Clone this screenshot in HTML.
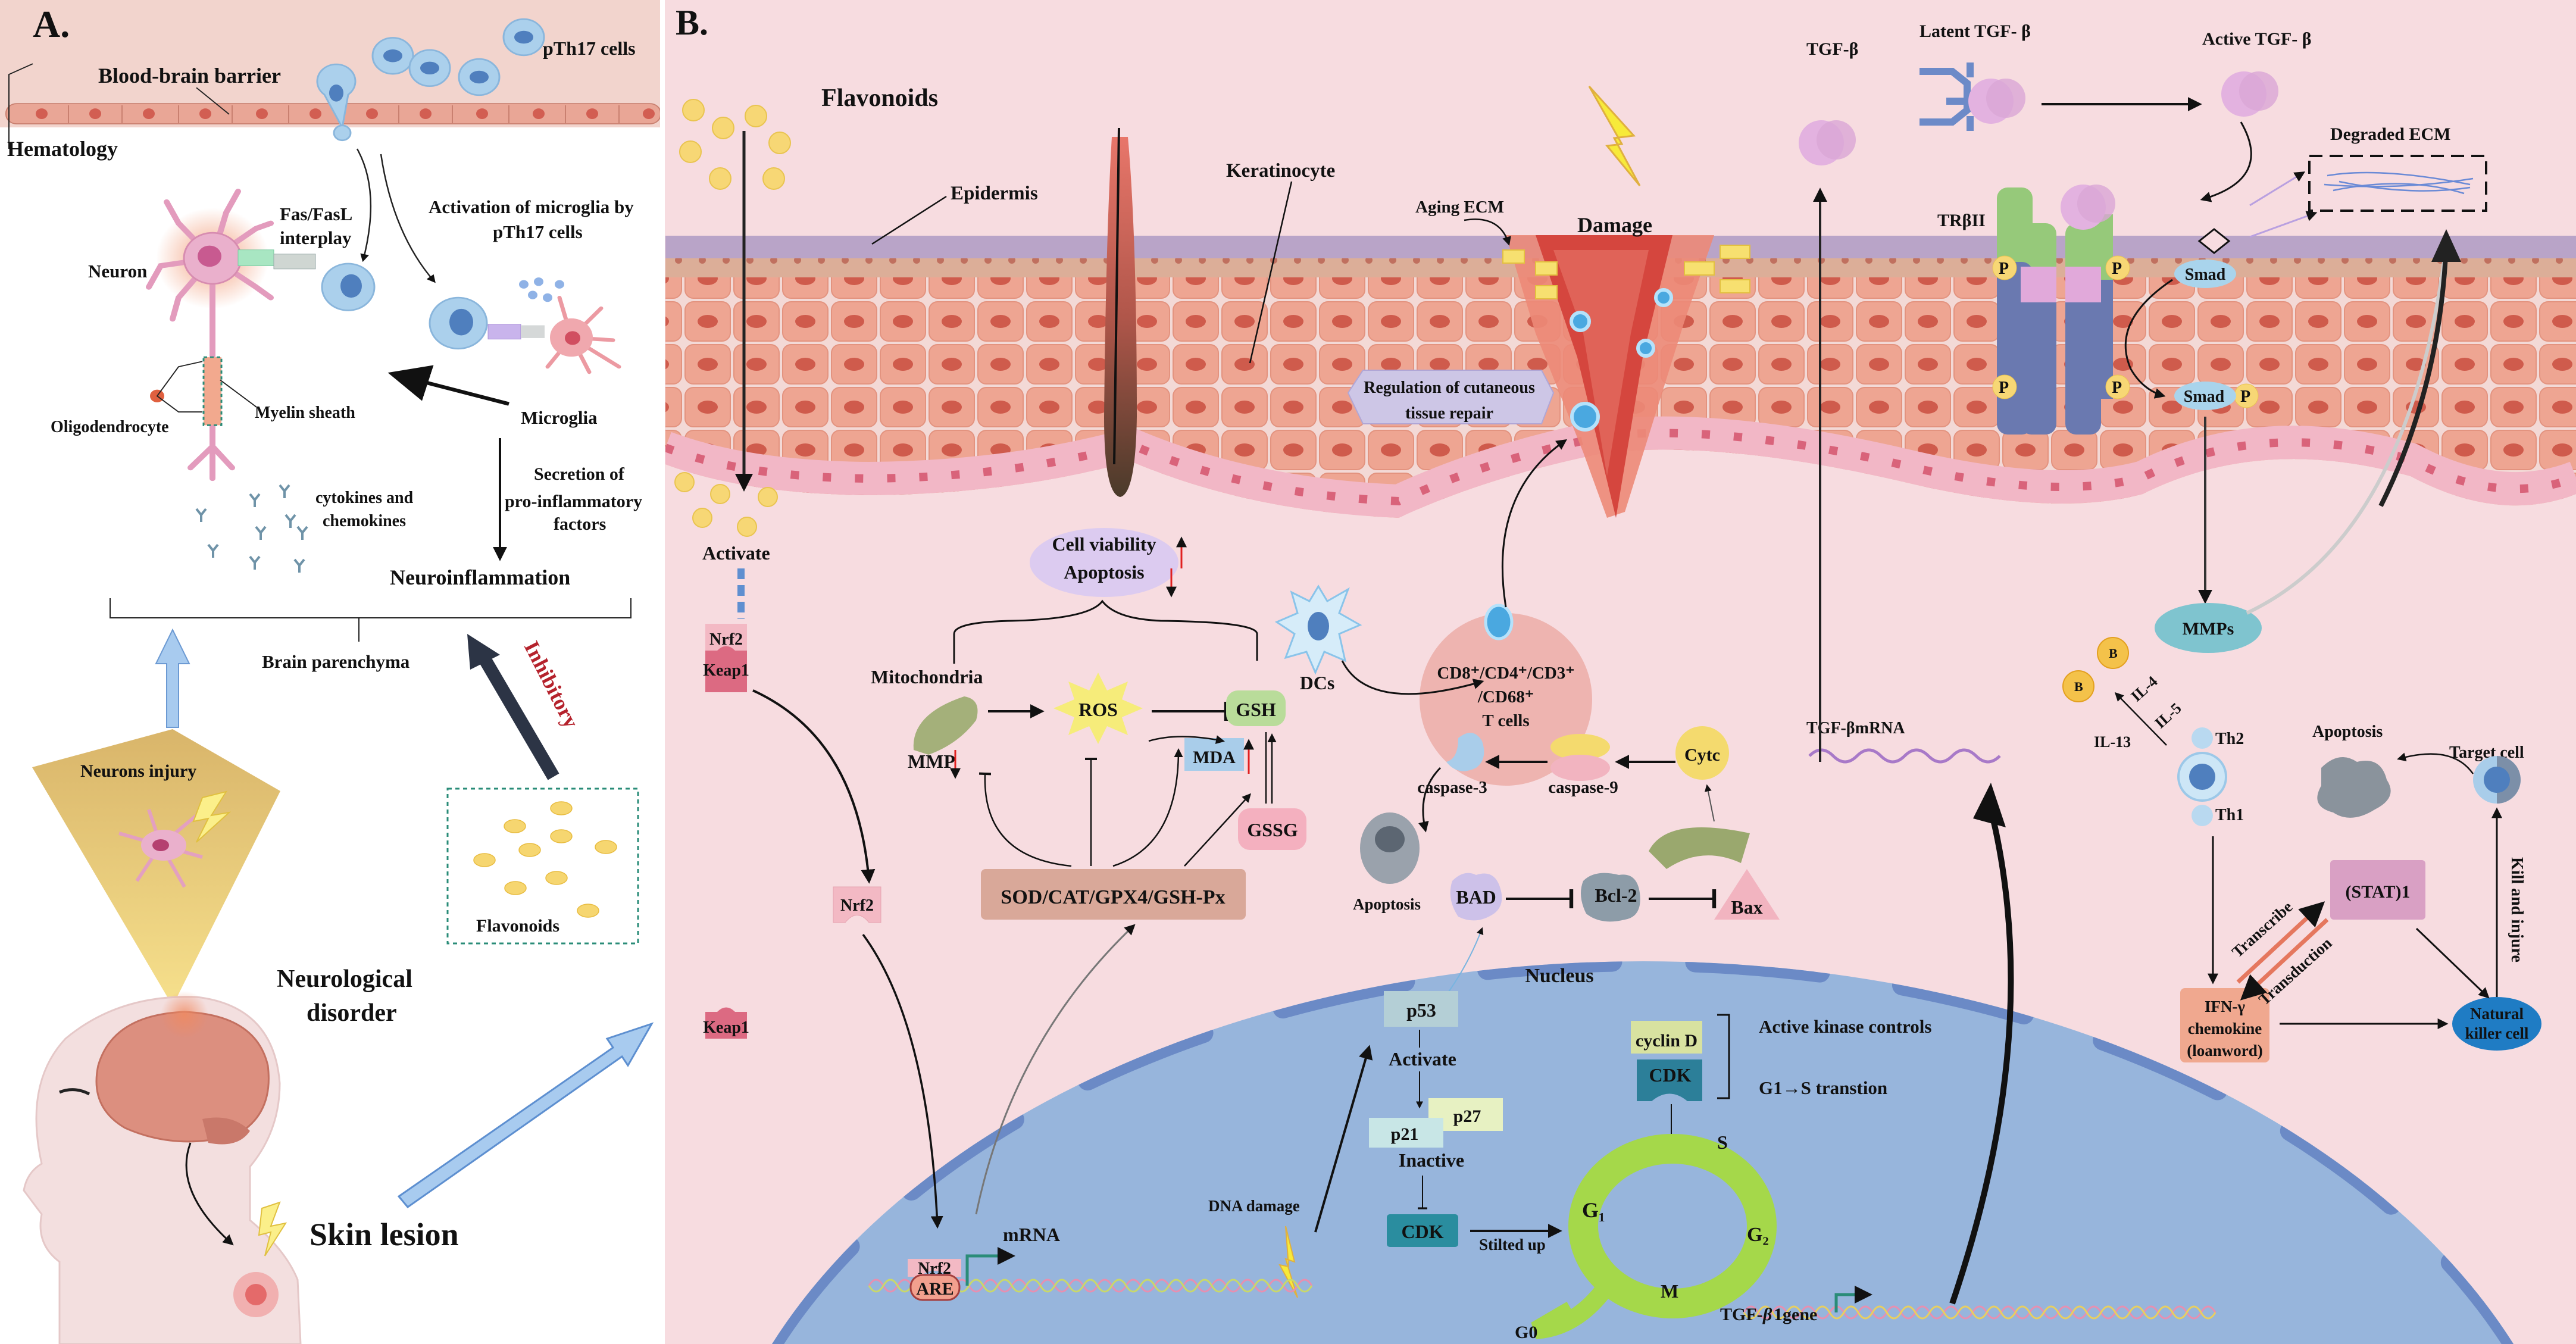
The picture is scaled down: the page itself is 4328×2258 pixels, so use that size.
<!DOCTYPE html>
<html><head><meta charset="utf-8"><style>
html,body{margin:0;padding:0;background:#fff;width:4328px;height:2258px;overflow:hidden}
svg{display:block}
text{font-family:"Liberation Serif",serif;font-weight:bold;fill:#111}
</style></head><body>
<svg width="4328" height="2258" viewBox="0 0 4328 2258" xmlns="http://www.w3.org/2000/svg">
<defs>
<pattern id="cells" width="82" height="72" patternUnits="userSpaceOnUse">
<rect width="82" height="72" fill="#f3d9d6"/>
<rect x="3" y="3" width="76" height="66" rx="14" fill="#eea592" stroke="#e3937f" stroke-width="2"/>
<ellipse cx="41" cy="36" rx="17" ry="11" fill="#cf5b4c"/>
</pattern>
<pattern id="gran" width="40" height="38" patternUnits="userSpaceOnUse">
<rect width="40" height="38" fill="#dcae98"/>
<circle cx="20" cy="19" r="6" fill="#c0705f"/>
</pattern>
<linearGradient id="tri" x1="0" y1="0" x2="0" y2="1"><stop offset="0" stop-color="#d9b56a"/><stop offset="1" stop-color="#f6e08c"/></linearGradient>
<linearGradient id="hair" x1="0" y1="0" x2="0" y2="1"><stop offset="0" stop-color="#e8766a"/><stop offset="0.5" stop-color="#b0564a"/><stop offset="1" stop-color="#4a3a2a"/></linearGradient>
<radialGradient id="glow"><stop offset="0" stop-color="#f08a60" stop-opacity="0.8"/><stop offset="1" stop-color="#f08a60" stop-opacity="0"/></radialGradient>
<marker id="ah" viewBox="0 0 10 10" refX="8" refY="5" markerWidth="6" markerHeight="6" orient="auto"><path d="M0,0 L10,5 L0,10 Z" fill="#111"/></marker>
<marker id="ahs" viewBox="0 0 10 10" refX="8" refY="5" markerWidth="10" markerHeight="10" orient="auto"><path d="M0,0 L10,5 L0,10 Z" fill="#111"/></marker>
<marker id="tb" viewBox="0 0 10 10" refX="5" refY="5" markerWidth="8" markerHeight="8" orient="auto"><path d="M5,0 L5,10" stroke="#111" stroke-width="2"/></marker>
<clipPath id="skinclip"><path d="M1118,396 L4328,396 L4328,830 Q4200,880 4050,800 Q3800,730 3600,830 Q3450,870 3200,810 Q2900,740 2700,760 Q2500,800 2350,870 Q2100,860 1900,775 Q1700,830 1460,832 Q1250,830 1118,780 Z"/></clipPath>
<clipPath id="nuc"><path d="M1297,2258 A1585,1045 0 0 1 4223,2258 Z"/></clipPath>
</defs>

<!-- PANEL A -->
<rect x="0" y="0" width="1112" height="2258" fill="#fff"/>
<rect x="0" y="0" width="1112" height="214" fill="#f2d4cd"/>
<g transform="matrix(1,0,0,0.893,0,0)">
<rect x="10" y="195" width="1100" height="38" rx="18" fill="#e9a696" stroke="#c98070" stroke-width="2"/>
<g fill="#d25e52">
<circle cx="70" cy="214" r="10"/><circle cx="160" cy="214" r="10"/><circle cx="250" cy="214" r="10"/><circle cx="345" cy="214" r="10"/><circle cx="440" cy="214" r="10"/><circle cx="530" cy="214" r="10"/><circle cx="625" cy="214" r="10"/><circle cx="715" cy="214" r="10"/><circle cx="810" cy="214" r="10"/><circle cx="905" cy="214" r="10"/><circle cx="995" cy="214" r="10"/><circle cx="1090" cy="214" r="10"/>
</g>
<g stroke="#c98070" stroke-width="2"><line x1="115" y1="198" x2="115" y2="232"/><line x1="205" y1="198" x2="205" y2="232"/><line x1="300" y1="198" x2="300" y2="232"/><line x1="390" y1="198" x2="390" y2="232"/><line x1="485" y1="198" x2="485" y2="232"/><line x1="575" y1="198" x2="575" y2="232"/><line x1="670" y1="198" x2="670" y2="232"/><line x1="760" y1="198" x2="760" y2="232"/><line x1="855" y1="198" x2="855" y2="232"/><line x1="950" y1="198" x2="950" y2="232"/><line x1="1040" y1="198" x2="1040" y2="232"/></g>
<polyline points="15,280 15,140 55,120" fill="none" stroke="#222" stroke-width="2"/>
<line x1="330" y1="165" x2="385" y2="215" stroke="#222" stroke-width="2"/>
<g fill="#abd0ec" stroke="#8ab6dc" stroke-width="3">
<circle cx="660" cy="105" r="34"/><circle cx="722" cy="128" r="34"/><circle cx="805" cy="145" r="34"/><circle cx="880" cy="70" r="34"/>
<path d="M545,178 a32,32 0 1 1 40,0 L575,240 Z"/><circle cx="575" cy="250" r="14"/>
</g>
<g fill="#4f7fbe"><ellipse cx="660" cy="105" rx="16" ry="12"/><ellipse cx="722" cy="128" rx="16" ry="12"/><ellipse cx="805" cy="145" rx="16" ry="12"/><ellipse cx="880" cy="70" rx="16" ry="12"/><ellipse cx="565" cy="175" rx="12" ry="16"/></g>
<circle cx="357" cy="486" r="95" fill="url(#glow)"/>
<g stroke="#e39bbd" stroke-width="10" fill="none" stroke-linecap="round">
<path d="M357,486 L357,680"/><path d="M357,486 L300,420 L280,380"/><path d="M357,486 L380,400 L400,360"/><path d="M357,486 L430,430 L455,420"/><path d="M357,486 L270,500 L250,540"/><path d="M357,486 L300,560 L290,600"/><path d="M357,486 L430,540 L455,560"/>
<path d="M357,800 L357,840 L320,880 M357,840 L390,880 M357,840 L357,900"/>
</g>
<circle cx="357" cy="486" r="48" fill="#eab0cc" stroke="#d78cb0" stroke-width="3"/>
<circle cx="352" cy="482" r="20" fill="#c85a90"/>
<rect x="342" y="672" width="30" height="128" fill="#f2a98e" stroke="#2a8c78" stroke-width="3" stroke-dasharray="6,5"/>
<circle cx="264" cy="745" r="12" fill="#e0603f"/>
<polyline points="340,680 300,690 264,745 300,775 340,775" fill="none" stroke="#222" stroke-width="2"/>
<line x1="370" y1="715" x2="430" y2="765" stroke="#222" stroke-width="2"/>
<rect x="400" y="470" width="60" height="30" fill="#a8e6c2" stroke="#7ac9a0"/>
<rect x="460" y="478" width="70" height="28" fill="#cfd6d2" stroke="#9aa"/>
<circle cx="585" cy="540" r="44" fill="#abd0ec" stroke="#8ab6dc" stroke-width="3"/><ellipse cx="590" cy="538" rx="18" ry="22" fill="#4f7fbe"/>
<circle cx="770" cy="608" r="48" fill="#abd0ec" stroke="#8ab6dc" stroke-width="3"/><ellipse cx="775" cy="606" rx="20" ry="25" fill="#4f7fbe"/>
<rect x="820" y="610" width="55" height="28" fill="#c9b4ec" stroke="#a68ed6"/><rect x="875" y="612" width="40" height="24" fill="#d5d8d8"/>
<g stroke="#ec9aa2" stroke-width="7" fill="none" stroke-linecap="round"><path d="M960,635 L1010,580 M960,635 L1030,640 M960,635 L990,700 M960,635 L920,690 M960,635 L940,560 M960,635 L1040,690"/></g>
<circle cx="960" cy="635" r="36" fill="#f0a8ae"/><circle cx="962" cy="636" r="13" fill="#d14e60"/>
<g fill="#8fb2e6"><circle cx="880" cy="535" r="8"/><circle cx="905" cy="530" r="8"/><circle cx="895" cy="555" r="8"/><circle cx="920" cy="560" r="8"/><circle cx="940" cy="535" r="8"/></g>
<path d="M600,280 Q640,360 610,490" fill="none" stroke="#222" stroke-width="2.5" marker-end="url(#ah)"/>
<path d="M640,290 Q660,440 730,530" fill="none" stroke="#222" stroke-width="2.5" marker-end="url(#ah)"/>
<line x1="855" y1="760" x2="665" y2="705" stroke="#111" stroke-width="7" marker-end="url(#ahs)"/>
</g>
<text x="55" y="62" font-size="64">A.</text>
<text x="165" y="139" font-size="36">Blood-brain barrier</text>
<text x="12" y="262" font-size="36">Hematology</text>
<text x="912" y="92" font-size="32">pTh17 cells</text>
<text x="470" y="370" font-size="31">Fas/FasL</text><text x="470" y="410" font-size="31">interplay</text>
<text x="720" y="358" font-size="31">Activation of microglia by</text><text x="828" y="400" font-size="31">pTh17 cells</text>
<text x="148" y="466" font-size="31">Neuron</text>
<text x="85" y="726" font-size="28">Oligodendrocyte</text>
<text x="428" y="702" font-size="28">Myelin sheath</text>
<text x="875" y="712" font-size="31">Microglia</text>
<line x1="840" y1="736" x2="840" y2="938" stroke="#111" stroke-width="4" marker-end="url(#ah)"/>
<g stroke="#6f93a8" stroke-width="4" fill="none"><path d="M330,855 l8,10 l8,-10 M338,865 v12"/><path d="M420,830 l8,10 l8,-10 M428,840 v12"/><path d="M470,815 l8,10 l8,-10 M478,825 v12"/><path d="M350,915 l8,10 l8,-10 M358,925 v12"/><path d="M430,885 l8,10 l8,-10 M438,895 v12"/><path d="M480,865 l8,10 l8,-10 M488,875 v12"/><path d="M500,885 l8,10 l8,-10 M508,895 v12"/><path d="M420,935 l8,10 l8,-10 M428,945 v12"/><path d="M495,940 l8,10 l8,-10 M503,950 v12"/></g>
<text x="530" y="845" font-size="28">cytokines and</text><text x="542" y="884" font-size="28">chemokines</text>
<text x="897" y="806" font-size="30">Secretion of</text><text x="848" y="852" font-size="30">pro-inflammatory</text><text x="930" y="890" font-size="30">factors</text>
<text x="655" y="982" font-size="36">Neuroinflammation</text>
<polyline points="185,1005 185,1038 1060,1038 1060,1005" fill="none" stroke="#222" stroke-width="2"/>
<line x1="603" y1="1038" x2="603" y2="1078" stroke="#222" stroke-width="2"/>
<text x="440" y="1122" font-size="31">Brain parenchyma</text>
<path d="M280,1222 L280,1115 L262,1115 L290,1058 L318,1115 L300,1115 L300,1222 Z" fill="#a8cbef" stroke="#6c9ad3" stroke-width="2"/>
<polygon points="54,1289 290,1225 471,1329 290,1690" fill="url(#tri)"/>
<text x="135" y="1305" font-size="30">Neurons injury</text>
<g stroke="#e3a0c0" stroke-width="6" fill="none"><path d="M270,1420 L200,1400 M270,1420 L250,1360 M270,1420 L330,1370 M270,1420 L340,1440 M270,1420 L230,1480 M270,1420 L310,1490"/></g>
<ellipse cx="275" cy="1420" rx="38" ry="26" fill="#eab0cc"/><ellipse cx="270" cy="1420" rx="14" ry="10" fill="#b54070"/>
<polygon points="340,1340 380,1330 355,1370 385,1365 330,1415 350,1375 325,1380" fill="#fbef8a" stroke="#e0c040" stroke-width="2"/>
<line x1="930" y1="1305" x2="810" y2="1100" stroke="#2c3445" stroke-width="22"/>
<polygon points="785,1065 840,1100 790,1125" fill="#2c3445"/>
<text transform="translate(880,1085) rotate(63)" font-size="36" style="fill:#b5222c">Inhibitory</text>
<rect x="752" y="1325" width="320" height="260" fill="none" stroke="#2a8c78" stroke-width="3" stroke-dasharray="7,6"/>
<g fill="#f6d670" stroke="#e8bc40" stroke-width="1.5"><ellipse cx="943" cy="1358" rx="18" ry="11"/><ellipse cx="865" cy="1388" rx="18" ry="11"/><ellipse cx="943" cy="1405" rx="18" ry="11"/><ellipse cx="890" cy="1428" rx="18" ry="11"/><ellipse cx="1018" cy="1423" rx="18" ry="11"/><ellipse cx="814" cy="1445" rx="18" ry="11"/><ellipse cx="935" cy="1475" rx="18" ry="11"/><ellipse cx="866" cy="1492" rx="18" ry="11"/><ellipse cx="988" cy="1530" rx="18" ry="11"/></g>
<text x="800" y="1565" font-size="30">Flavonoids</text>
<text x="465" y="1658" font-size="42">Neurological</text><text x="515" y="1715" font-size="42">disorder</text>
<path d="M100,2258 L100,2120 Q60,2090 70,2040 L40,2000 Q45,1970 70,1955 Q40,1820 110,1745 Q200,1670 330,1675 Q460,1690 470,1820 Q470,1900 420,1960 L420,2050 Q480,2100 500,2150 L505,2258 Z" fill="#f3dfdf" stroke="#e5c8c8" stroke-width="3"/>
<path d="M165,1790 Q190,1705 310,1700 Q430,1705 450,1790 Q460,1870 400,1905 Q300,1935 210,1895 Q150,1860 165,1790 Z" fill="#dc8f7f" stroke="#c37060" stroke-width="3"/>
<path d="M340,1880 Q390,1870 420,1900 Q400,1930 350,1920 Z" fill="#c9786a"/>
<circle cx="310" cy="1705" r="40" fill="url(#glow)"/>
<path d="M100,1835 Q125,1825 150,1838" fill="none" stroke="#222" stroke-width="5"/>
<path d="M320,1920 Q290,2000 390,2090" fill="none" stroke="#111" stroke-width="3" marker-end="url(#ah)"/>
<circle cx="430" cy="2175" r="38" fill="#ef9b9b" opacity="0.7"/><circle cx="430" cy="2175" r="18" fill="#e46a6a"/>
<polygon points="440,2030 470,2020 455,2060 480,2055 445,2110 455,2070 435,2075" fill="#fbef8a" stroke="#e0c040" stroke-width="2"/>
<text x="520" y="2092" font-size="54">Skin lesion</text>
<path d="M670,2010 L1030,1760 L1020,1745 L1095,1720 L1055,1790 L1045,1775 L685,2028 Z" fill="#a8cbef" stroke="#5d8fd0" stroke-width="3"/>

<line x1="1113" y1="0" x2="1113" y2="2258" stroke="#fff" stroke-width="8"/>

<!-- PANEL B -->
<rect x="1117" y="0" width="3211" height="2258" fill="#f7dce0"/>
<path d="M1297,2258 A1585,1045 0 0 1 4223,2258 Z" fill="#97b5dc"/>
<g clip-path="url(#nuc)">
<path d="M1297,2258 A1585,1045 0 0 1 4223,2258" fill="none" stroke="#6b8ac6" stroke-width="34" stroke-linecap="round" stroke-dasharray="210,140"/>
</g>
<g clip-path="url(#skinclip)">
<rect x="1118" y="396" width="3210" height="520" fill="url(#cells)"/>
<rect x="1118" y="396" width="3210" height="38" fill="#b9a4c8"/>
<rect x="1118" y="434" width="3210" height="32" fill="url(#gran)"/>
<path d="M1118,752 Q1250,802 1460,804 Q1700,802 1900,747 Q2100,832 2350,842 Q2500,772 2700,732 Q2900,712 3200,782 Q3450,842 3600,802 Q3800,702 4050,772 Q4200,852 4328,802" fill="none" stroke="#f2b7c6" stroke-width="56"/>
<path d="M1118,752 Q1250,802 1460,804 Q1700,802 1900,747 Q2100,832 2350,842 Q2500,772 2700,732 Q2900,712 3200,782 Q3450,842 3600,802 Q3800,702 4050,772 Q4200,852 4328,802" fill="none" stroke="#d9637a" stroke-width="14" stroke-dasharray="14,40"/>
</g>
<path d="M1868,230 L1895,230 Q1910,400 1910,700 Q1908,830 1882,835 Q1855,830 1855,700 Q1858,400 1868,230 Z" fill="url(#hair)"/>
<line x1="1880" y1="215" x2="1872" y2="780" stroke="#111" stroke-width="4"/>
<polygon points="2530,395 2880,395 2830,540 2730,860 2700,870 2660,760 2580,560" fill="#ec8a78" opacity="0.9"/>
<polygon points="2580,395 2810,395 2760,600 2715,870 2650,600" fill="#d5463e"/>
<polygon points="2610,420 2770,420 2740,560 2700,800 2660,560" fill="#e06358"/>
<g fill="#f7e070" stroke="#e3c040" stroke-width="2"><rect x="2525" y="420" width="36" height="22"/><rect x="2580" y="440" width="36" height="22"/><rect x="2580" y="480" width="36" height="22"/><rect x="2830" y="440" width="50" height="22"/><rect x="2890" y="412" width="50" height="22"/><rect x="2890" y="470" width="50" height="22"/></g>
<g fill="#4aa8e0" stroke="#b5e2fb" stroke-width="6"><circle cx="2655" cy="540" r="15"/><circle cx="2795" cy="500" r="13"/><circle cx="2765" cy="585" r="13"/><circle cx="2663" cy="700" r="22"/></g>
<polygon points="2670,145 2745,228 2712,232 2755,312 2700,245 2725,242" fill="#f7ea3a" stroke="#e0b040" stroke-width="3"/>
<text x="2650" y="390" font-size="36">Damage</text>
<text x="2378" y="357" font-size="29">Aging ECM</text>
<path d="M2460,370 Q2520,360 2535,410" fill="none" stroke="#111" stroke-width="2.5" marker-end="url(#ah)"/>
<polygon points="2265,660 2290,622 2590,622 2610,660 2590,712 2290,712" fill="#cdc6e6" stroke="#b0a6d6" stroke-width="2"/>
<text x="2435" y="660" font-size="28" text-anchor="middle">Regulation of cutaneous</text>
<text x="2435" y="703" font-size="28" text-anchor="middle">tissue repair</text>

<text x="1135" y="58" font-size="60">B.</text>
<text x="1380" y="178" font-size="42">Flavonoids</text>
<g fill="#f7d775" stroke="#e9c450" stroke-width="2"><circle cx="1165" cy="185" r="18"/><circle cx="1215" cy="215" r="18"/><circle cx="1270" cy="195" r="18"/><circle cx="1310" cy="240" r="18"/><circle cx="1160" cy="255" r="18"/><circle cx="1300" cy="300" r="18"/><circle cx="1210" cy="300" r="18"/><circle cx="1210" cy="830" r="16"/><circle cx="1290" cy="835" r="16"/><circle cx="1180" cy="870" r="16"/><circle cx="1255" cy="885" r="16"/><circle cx="1150" cy="810" r="16"/></g>
<line x1="1250" y1="220" x2="1250" y2="820" stroke="#222" stroke-width="5" marker-end="url(#ah)"/>
<text x="1597" y="335" font-size="33">Epidermis</text>
<line x1="1590" y1="330" x2="1465" y2="410" stroke="#111" stroke-width="2.5"/>
<text x="2060" y="297" font-size="33">Keratinocyte</text>
<line x1="2170" y1="305" x2="2100" y2="610" stroke="#111" stroke-width="2.5"/>

<text x="1180" y="940" font-size="32">Activate</text>
<line x1="1245" y1="955" x2="1245" y2="1040" stroke="#5f8fd0" stroke-width="12" stroke-dasharray="18,10"/>
<rect x="1185" y="1048" width="70" height="45" fill="#f3b9c4"/>
<path d="M1185,1093 h20 q15,-15 30,0 h20 v70 h-70 Z" fill="#dc6a82"/>
<text x="1220" y="1083" font-size="28" text-anchor="middle">Nrf2</text>
<text x="1220" y="1135" font-size="28" text-anchor="middle">Keap1</text>
<path d="M1265,1160 Q1440,1240 1460,1480" fill="none" stroke="#111" stroke-width="4" marker-end="url(#ah)"/>
<path d="M1400,1490 h80 v60 h-20 q-20,-25 -40,0 h-20 Z" fill="#f3b9c4" stroke="#e6a3b0"/>
<text x="1440" y="1530" font-size="28" text-anchor="middle">Nrf2</text>
<path d="M1450,1570 Q1560,1720 1575,2060" fill="none" stroke="#111" stroke-width="3.5" marker-end="url(#ah)"/>
<path d="M1185,1700 h20 q15,-15 30,0 h20 v45 h-70 Z" fill="#dc6a82"/>
<text x="1220" y="1735" font-size="28" text-anchor="middle">Keap1</text>
<path d="M1640,2040 Q1700,1750 1905,1555" fill="none" stroke="#777" stroke-width="3" marker-end="url(#ah)"/>

<ellipse cx="1855" cy="945" rx="125" ry="58" fill="#dccbf0"/>
<text x="1855" y="925" font-size="32" text-anchor="middle">Cell viability</text>
<text x="1855" y="972" font-size="32" text-anchor="middle">Apoptosis</text>
<line x1="1985" y1="955" x2="1985" y2="905" stroke="#e02020" stroke-width="3" marker-end="url(#ah)"/>
<line x1="1968" y1="955" x2="1968" y2="1000" stroke="#e02020" stroke-width="3" marker-end="url(#ah)"/>
<path d="M1603,1115 V1065 Q1603,1045 1700,1043 Q1830,1040 1852,1010 Q1875,1040 1950,1043 Q2112,1045 2112,1065 V1110" fill="none" stroke="#111" stroke-width="3"/>
<text x="1463" y="1148" font-size="32">Mitochondria</text>
<path d="M1535,1260 Q1530,1200 1620,1170 Q1650,1175 1640,1210 Q1610,1250 1560,1268 Z" fill="#a4b07a"/>
<line x1="1660" y1="1195" x2="1750" y2="1195" stroke="#111" stroke-width="4" marker-end="url(#ah)"/>
<polygon points="1845,1130 1860,1160 1895,1145 1885,1175 1920,1190 1885,1205 1895,1235 1860,1220 1845,1250 1830,1220 1795,1235 1805,1205 1770,1190 1805,1175 1795,1145 1830,1160" fill="#f6ec7a"/>
<text x="1845" y="1203" font-size="32" text-anchor="middle">ROS</text>
<line x1="1935" y1="1195" x2="2060" y2="1195" stroke="#111" stroke-width="4" marker-end="url(#tb)"/>
<rect x="2060" y="1160" width="100" height="60" rx="20" fill="#b9dc9a"/>
<text x="2110" y="1203" font-size="32" text-anchor="middle">GSH</text>
<text x="1565" y="1290" font-size="32" text-anchor="middle">MMP</text>
<line x1="1605" y1="1260" x2="1605" y2="1305" stroke="#e02020" stroke-width="3" marker-end="url(#ah)"/>
<rect x="1990" y="1240" width="100" height="55" fill="#a9cdea"/>
<text x="2040" y="1282" font-size="30" text-anchor="middle">MDA</text>
<line x1="2098" y1="1300" x2="2098" y2="1245" stroke="#e02020" stroke-width="3" marker-end="url(#ah)"/>
<rect x="2080" y="1358" width="115" height="70" rx="20" fill="#f4b0bf"/>
<text x="2138" y="1405" font-size="32" text-anchor="middle">GSSG</text>
<line x1="2127" y1="1230" x2="2127" y2="1350" stroke="#111" stroke-width="2.5"/>
<line x1="2137" y1="1350" x2="2137" y2="1235" stroke="#111" stroke-width="2.5" marker-end="url(#ah)"/>
<path d="M1930,1245 Q1980,1230 2055,1245" fill="none" stroke="#111" stroke-width="2.5" marker-end="url(#ah)"/>
<rect x="1648" y="1460" width="445" height="85" rx="8" fill="#d9a899"/>
<text x="1870" y="1518" font-size="34" text-anchor="middle">SOD/CAT/GPX4/GSH-Px</text>
<path d="M1800,1455 Q1650,1440 1655,1300" fill="none" stroke="#111" stroke-width="2.5" marker-end="url(#tb)"/>
<line x1="1833" y1="1455" x2="1833" y2="1275" stroke="#111" stroke-width="2.5" marker-end="url(#tb)"/>
<path d="M1870,1455 Q1980,1420 1980,1260" fill="none" stroke="#111" stroke-width="2.5" marker-end="url(#ah)"/>
<path d="M1990,1455 Q2050,1390 2100,1335" fill="none" stroke="#111" stroke-width="2.5" marker-end="url(#ah)"/>

<polygon points="2215,985 2230,1010 2265,990 2250,1030 2285,1050 2250,1065 2260,1110 2225,1095 2210,1130 2195,1095 2160,1105 2175,1065 2145,1045 2180,1030 2170,995 2200,1010" fill="#d6ecf9" stroke="#8ac4ea" stroke-width="3"/>
<ellipse cx="2215" cy="1052" rx="18" ry="24" fill="#4f7fbe"/>
<text x="2213" y="1158" font-size="32" text-anchor="middle">DCs</text>
<circle cx="2530" cy="1175" r="145" fill="#eeb4b0"/>
<ellipse cx="2518" cy="1045" rx="22" ry="28" fill="#4aa8e0" stroke="#b5e2fb" stroke-width="5"/>
<path d="M2255,1110 Q2300,1200 2490,1145" fill="none" stroke="#111" stroke-width="3" marker-end="url(#ah)"/>
<path d="M2530,1020 Q2500,830 2630,740" fill="none" stroke="#111" stroke-width="3" marker-end="url(#ah)"/>
<text x="2530" y="1140" font-size="29" text-anchor="middle">CD8⁺/CD4⁺/CD3⁺</text>
<text x="2530" y="1180" font-size="29" text-anchor="middle">/CD68⁺</text>
<text x="2530" y="1220" font-size="29" text-anchor="middle">T cells</text>
<path d="M2450,1240 q25,-20 40,5 q10,30 -10,45 q-30,15 -50,-10 q20,-5 20,-40 Z" fill="#a9cdea"/>
<text x="2440" y="1332" font-size="29" text-anchor="middle">caspase-3</text>
<ellipse cx="2655" cy="1255" rx="50" ry="22" fill="#f4da6e"/><ellipse cx="2655" cy="1290" rx="50" ry="22" fill="#f2b4c0"/>
<text x="2660" y="1332" font-size="29" text-anchor="middle">caspase-9</text>
<ellipse cx="2860" cy="1265" rx="45" ry="45" fill="#f4da6e"/>
<text x="2860" y="1278" font-size="30" text-anchor="middle">Cytc</text>
<line x1="2815" y1="1280" x2="2718" y2="1280" stroke="#111" stroke-width="4" marker-end="url(#ah)"/>
<line x1="2600" y1="1280" x2="2500" y2="1280" stroke="#111" stroke-width="4" marker-end="url(#ah)"/>
<path d="M2420,1290 Q2380,1330 2395,1395" fill="none" stroke="#111" stroke-width="3" marker-end="url(#ah)"/>
<path d="M2770,1430 Q2800,1370 2940,1400 L2925,1450 Q2860,1420 2800,1460 Z" fill="#9aa86e"/>
<line x1="2880" y1="1380" x2="2868" y2="1320" stroke="#555" stroke-width="2" marker-end="url(#ah)"/>
<ellipse cx="2335" cy="1425" rx="50" ry="60" fill="#9aa2ac"/><ellipse cx="2335" cy="1410" rx="25" ry="22" fill="#5c6672"/>
<text x="2330" y="1528" font-size="27" text-anchor="middle">Apoptosis</text>
<path d="M2440,1480 q20,-20 40,-10 q30,-10 40,20 q10,30 -10,45 q-30,20 -60,5 q-20,-30 -10,-60 Z" fill="#cdc1e9"/>
<text x="2480" y="1518" font-size="32" text-anchor="middle">BAD</text>
<line x1="2530" y1="1510" x2="2640" y2="1510" stroke="#111" stroke-width="4" marker-end="url(#tb)"/>
<path d="M2660,1480 q20,-20 60,-10 q30,-5 35,30 q5,40 -25,45 q-40,10 -65,-10 q-15,-30 -5,-55 Z" fill="#8d9ca8"/>
<text x="2715" y="1515" font-size="32" text-anchor="middle">Bcl-2</text>
<line x1="2770" y1="1510" x2="2880" y2="1510" stroke="#111" stroke-width="4" marker-end="url(#tb)"/>
<polygon points="2935,1460 2990,1545 2880,1545" fill="#f2b4c0"/>
<text x="2935" y="1535" font-size="32" text-anchor="middle">Bax</text>
<path d="M2400,1710 Q2460,1640 2490,1560" fill="none" stroke="#78b4e0" stroke-width="2" marker-end="url(#ah)"/>

<text x="2620" y="1650" font-size="34" text-anchor="middle">Nucleus</text>
<rect x="2325" y="1665" width="125" height="60" fill="#b4cfd6"/>
<text x="2388" y="1708" font-size="32" text-anchor="middle">p53</text>
<text x="2390" y="1790" font-size="32" text-anchor="middle">Activate</text>
<line x1="2385" y1="1730" x2="2385" y2="1760" stroke="#111" stroke-width="2"/>
<line x1="2385" y1="1800" x2="2385" y2="1860" stroke="#111" stroke-width="2" marker-end="url(#ah)"/>
<rect x="2400" y="1845" width="125" height="55" fill="#e7f1c2"/>
<text x="2465" y="1885" font-size="30" text-anchor="middle">p27</text>
<rect x="2300" y="1878" width="125" height="50" fill="#c8e6e6"/>
<text x="2360" y="1915" font-size="30" text-anchor="middle">p21</text>
<text x="2405" y="1960" font-size="32" text-anchor="middle">Inactive</text>
<line x1="2390" y1="1975" x2="2390" y2="2030" stroke="#111" stroke-width="2" marker-end="url(#tb)"/>
<rect x="2330" y="2040" width="120" height="55" rx="5" fill="#2a8d9f"/>
<text x="2390" y="2080" font-size="32" text-anchor="middle">CDK</text>
<line x1="2470" y1="2068" x2="2620" y2="2068" stroke="#111" stroke-width="4" marker-end="url(#ah)"/>
<text x="2485" y="2100" font-size="27">Stilted up</text>
<text x="2030" y="2035" font-size="27">DNA damage</text>
<polygon points="2160,2060 2175,2120 2160,2115 2180,2180 2150,2125 2165,2128" fill="#f7ea3a" stroke="#e0b040" stroke-width="2"/>
<line x1="2210" y1="2070" x2="2300" y2="1760" stroke="#111" stroke-width="4" marker-end="url(#ah)"/>
<polygon points="2740,1715 2860,1715 2860,1770 2740,1770" fill="#d8e2a0"/>
<text x="2800" y="1758" font-size="30" text-anchor="middle">cyclin D</text>
<path d="M2750,1780 h110 v70 h-25 q-30,-25 -60,0 h-25 Z" fill="#2c7f99"/>
<text x="2806" y="1817" font-size="32" text-anchor="middle">CDK</text>
<polyline points="2885,1705 2905,1705 2905,1845 2885,1845" fill="none" stroke="#111" stroke-width="3"/>
<text x="2955" y="1735" font-size="31">Active kinase controls</text>
<text x="2955" y="1838" font-size="31">G1→S transtion</text>
<line x1="2808" y1="1855" x2="2808" y2="1915" stroke="#111" stroke-width="2" marker-end="url(#ah)"/>
<ellipse cx="2810" cy="2060" rx="150" ry="130" fill="none" stroke="#a5d84a" stroke-width="50"/>
<path d="M2700,2160 Q2650,2230 2580,2235 L2640,2200" fill="none" stroke="#a5d84a" stroke-width="30"/>
<text x="2658" y="2045" font-size="36">G₁</text>
<text x="2885" y="1930" font-size="32">S</text>
<text x="2935" y="2085" font-size="34">G₂</text>
<text x="2790" y="2180" font-size="32">M</text>
<text x="2545" y="2248" font-size="30">G0</text>
<g fill="none" stroke-width="3">
<path d="M1460,2160 q12,-20 24,0 t24,0 t24,0 t24,0 t24,0 t24,0 t24,0 t24,0 t24,0 t24,0 t24,0 t24,0 t24,0 t24,0 t24,0 t24,0 t24,0 t24,0 t24,0 t24,0 t24,0 t24,0 t24,0 t24,0 t24,0 t24,0 t24,0 t24,0 t24,0 t24,0 t24,0" stroke="#e88fb0"/>
<path d="M1460,2160 q12,20 24,0 t24,0 t24,0 t24,0 t24,0 t24,0 t24,0 t24,0 t24,0 t24,0 t24,0 t24,0 t24,0 t24,0 t24,0 t24,0 t24,0 t24,0 t24,0 t24,0 t24,0 t24,0 t24,0 t24,0 t24,0 t24,0 t24,0 t24,0 t24,0 t24,0 t24,0" stroke="#c9d86a"/>
<path d="M2930,2205 q12,-20 24,0 t24,0 t24,0 t24,0 t24,0 t24,0 t24,0 t24,0 t24,0 t24,0 t24,0 t24,0 t24,0 t24,0 t24,0 t24,0 t24,0 t24,0 t24,0 t24,0 t24,0 t24,0 t24,0 t24,0 t24,0 t24,0 t24,0 t24,0 t24,0 t24,0 t24,0 t24,0 t24,0" stroke="#e88fb0"/>
<path d="M2930,2205 q12,20 24,0 t24,0 t24,0 t24,0 t24,0 t24,0 t24,0 t24,0 t24,0 t24,0 t24,0 t24,0 t24,0 t24,0 t24,0 t24,0 t24,0 t24,0 t24,0 t24,0 t24,0 t24,0 t24,0 t24,0 t24,0 t24,0 t24,0 t24,0 t24,0 t24,0 t24,0 t24,0 t24,0" stroke="#e8cf60"/>
</g>
<path d="M1525,2115 h90 v30 h-20 q-25,-20 -50,0 h-20 Z" fill="#f3b9c4"/>
<text x="1570" y="2140" font-size="28" text-anchor="middle">Nrf2</text>
<rect x="1530" y="2142" width="82" height="42" rx="20" fill="#f2a08e" stroke="#a43e3e" stroke-width="3"/>
<text x="1571" y="2175" font-size="30" text-anchor="middle">ARE</text>
<path d="M1625,2160 V2110 H1700" fill="none" stroke="#2a8c78" stroke-width="5" marker-end="url(#ah)"/>
<text x="1685" y="2085" font-size="32">mRNA</text>
<text x="2890" y="2218" font-size="30">TGF-</text><text x="2962" y="2218" font-size="30" font-style="italic">β</text><text x="2980" y="2218" font-size="30">1gene</text>
<path d="M3085,2205 V2175 H3140" fill="none" stroke="#2a8c78" stroke-width="5" marker-end="url(#ah)"/>
<path d="M3280,2190 Q3440,1720 3340,1340" fill="none" stroke="#111" stroke-width="10"/>
<polygon points="3345,1315 3370,1390 3315,1375" fill="#111"/>
<text x="3035" y="1232" font-size="28">TGF-βmRNA</text>
<path d="M3040,1270 q20,-20 40,0 t40,0 t40,0 t40,0 t40,0 t40,0 t40,0 t40,0" fill="none" stroke="#a879c8" stroke-width="5"/>

<text x="3035" y="92" font-size="30">TGF-β</text>
<circle cx="3060" cy="240" r="38" fill="#e3b2e0"/><circle cx="3085" cy="235" r="33" fill="#d9a6d6" opacity="0.8"/>
<line x1="3058" y1="1280" x2="3058" y2="320" stroke="#222" stroke-width="4" marker-end="url(#ah)"/>
<text x="3225" y="62" font-size="30">Latent TGF- β</text>
<path d="M3225,120 h55 l25,20 v30 h-35 M3225,205 h55 l25,-20 v-30 M3310,105 v25 M3310,220 v-25" fill="none" stroke="#6c8ac8" stroke-width="12"/>
<circle cx="3345" cy="170" r="38" fill="#e3b2e0"/><circle cx="3370" cy="165" r="33" fill="#d9a6d6" opacity="0.8"/>
<line x1="3430" y1="175" x2="3695" y2="175" stroke="#111" stroke-width="4" marker-end="url(#ah)"/>
<text x="3700" y="75" font-size="30">Active TGF- β</text>
<circle cx="3770" cy="158" r="38" fill="#e3b2e0"/><circle cx="3795" cy="153" r="33" fill="#d9a6d6" opacity="0.8"/>
<path d="M3765,205 Q3820,300 3700,335" fill="none" stroke="#111" stroke-width="3" marker-end="url(#ah)"/>
<text x="3915" y="235" font-size="30">Degraded ECM</text>
<rect x="3880" y="262" width="297" height="92" fill="none" stroke="#111" stroke-width="4" stroke-dasharray="22,12"/>
<g fill="none" stroke="#6a8ad6" stroke-width="2.5"><path d="M3910,295 Q4000,280 4150,310"/><path d="M3905,310 Q4030,320 4155,300"/><path d="M3920,320 Q4040,295 4140,325"/><path d="M3930,305 Q4050,330 4150,315"/></g>
<line x1="3780" y1="345" x2="3870" y2="290" stroke="#b9a0e0" stroke-width="3" marker-end="url(#ah)"/>
<line x1="3780" y1="398" x2="3890" y2="358" stroke="#b9a0e0" stroke-width="3" marker-end="url(#ah)"/>
<polygon points="3720,385 3745,405 3720,425 3695,405" fill="#f7dce0" stroke="#111" stroke-width="3"/>
<rect x="3355" y="315" width="60" height="150" rx="18" fill="#96c97a"/>
<rect x="3395" y="375" width="60" height="110" rx="18" fill="#96c97a"/>
<rect x="3470" y="375" width="60" height="110" rx="18" fill="#96c97a"/>
<rect x="3500" y="360" width="50" height="110" fill="#96c97a"/>
<rect x="3355" y="440" width="60" height="290" rx="18" fill="#6a79b0"/>
<rect x="3395" y="480" width="60" height="250" rx="18" fill="#6a79b0"/>
<rect x="3470" y="470" width="60" height="260" rx="18" fill="#6a79b0"/>
<rect x="3510" y="470" width="40" height="200" fill="#6a79b0"/>
<rect x="3395" y="448" width="60" height="60" fill="#e1a9da"/><rect x="3470" y="448" width="60" height="60" fill="#e1a9da"/>
<circle cx="3500" cy="348" r="38" fill="#e3b2e0"/><circle cx="3522" cy="342" r="32" fill="#d9a6d6" opacity="0.8"/>
<text x="3255" y="380" font-size="30">TRβII</text>
<g fill="#f7d775" stroke="#e9c450"><circle cx="3368" cy="450" r="20"/><circle cx="3558" cy="450" r="20"/><circle cx="3368" cy="650" r="20"/><circle cx="3558" cy="650" r="20"/><circle cx="3774" cy="665" r="20"/></g>
<g font-size="28"><text x="3358" y="460">P</text><text x="3548" y="460">P</text><text x="3358" y="660">P</text><text x="3548" y="660">P</text><text x="3764" y="675">P</text></g>
<ellipse cx="3705" cy="460" rx="52" ry="24" fill="#a9d4ec"/><text x="3705" y="470" font-size="28" text-anchor="middle">Smad</text>
<ellipse cx="3705" cy="665" rx="52" ry="24" fill="#a9d4ec"/><text x="3703" y="675" font-size="28" text-anchor="middle">Smad</text>
<path d="M3650,470 Q3545,540 3580,620 Q3600,655 3635,665" fill="none" stroke="#111" stroke-width="3" marker-end="url(#ah)"/>
<line x1="3705" y1="700" x2="3705" y2="1010" stroke="#333" stroke-width="4" marker-end="url(#ah)"/>
<ellipse cx="3710" cy="1055" rx="90" ry="42" fill="#7fc4cf"/>
<text x="3710" y="1066" font-size="30" text-anchor="middle">MMPs</text>
<path d="M3775,1030 Q4050,900 4110,410" fill="none" stroke="#ccc" stroke-width="6"/>
<path d="M4000,850 Q4100,650 4110,410" fill="none" stroke="#222" stroke-width="8"/>
<polygon points="4110,385 4135,440 4085,440" fill="#222"/>
<g fill="#f4c24a" stroke="#e3a020" stroke-width="2"><circle cx="3550" cy="1097" r="26"/><circle cx="3492" cy="1153" r="26"/></g>
<g font-size="22"><text x="3543" y="1105">B</text><text x="3485" y="1161">B</text></g>
<line x1="3640" y1="1252" x2="3555" y2="1165" stroke="#111" stroke-width="2.5" marker-end="url(#ah)"/>
<text transform="translate(3590,1180) rotate(-42)" font-size="26">IL-4</text>
<text transform="translate(3630,1225) rotate(-42)" font-size="26">IL-5</text>
<text x="3518" y="1255" font-size="26">IL-13</text>
<circle cx="3700" cy="1240" r="18" fill="#b9d9f0"/><circle cx="3700" cy="1305" r="40" fill="#cde6f6" stroke="#9cc8e8" stroke-width="4"/><circle cx="3700" cy="1305" r="22" fill="#4f7fbe"/><circle cx="3700" cy="1370" r="18" fill="#b9d9f0"/>
<text x="3722" y="1250" font-size="28">Th2</text><text x="3722" y="1378" font-size="28">Th1</text>
<line x1="3718" y1="1405" x2="3718" y2="1650" stroke="#111" stroke-width="3" marker-end="url(#ah)"/>
<text x="3885" y="1238" font-size="28">Apoptosis</text>
<path d="M3900,1290 q30,-30 60,-10 q40,-10 50,30 q20,30 -20,50 q-40,25 -70,5 q-40,-10 -20,-45 Z" fill="#8a939c"/>
<text x="4115" y="1273" font-size="28">Target cell</text>
<circle cx="4195" cy="1310" r="40" fill="#a9cdea"/><path d="M4195,1270 a40,40 0 0 1 0,80 Z" fill="#7c8fa8"/><circle cx="4195" cy="1310" r="22" fill="#4f7fbe"/>
<path d="M4155,1300 Q4120,1250 4030,1275" fill="none" stroke="#111" stroke-width="2.5" marker-end="url(#ah)"/>
<rect x="3915" y="1445" width="160" height="100" rx="6" fill="#d9a0c4"/>
<text x="3995" y="1508" font-size="30" text-anchor="middle">(STAT)1</text>
<rect x="3663" y="1660" width="150" height="125" rx="8" fill="#f0a88f"/>
<text x="3738" y="1700" font-size="27" text-anchor="middle">IFN-γ</text>
<text x="3738" y="1737" font-size="27" text-anchor="middle">chemokine</text>
<text x="3738" y="1774" font-size="27" text-anchor="middle">(loanword)</text>
<line x1="3760" y1="1650" x2="3900" y2="1520" stroke="#e5775e" stroke-width="7" marker-end="url(#ah)"/>
<line x1="3910" y1="1545" x2="3770" y2="1675" stroke="#e5775e" stroke-width="7" marker-end="url(#ah)"/>
<text transform="translate(3760,1610) rotate(-42)" font-size="27">Transcribe</text>
<text transform="translate(3805,1690) rotate(-42)" font-size="27">Transduction</text>
<ellipse cx="4195" cy="1720" rx="75" ry="45" fill="#1f7cc4"/>
<text x="4195" y="1712" font-size="27" text-anchor="middle">Natural</text>
<text x="4195" y="1745" font-size="27" text-anchor="middle">killer cell</text>
<line x1="3830" y1="1720" x2="4110" y2="1720" stroke="#111" stroke-width="3" marker-end="url(#ah)"/>
<line x1="4060" y1="1560" x2="4180" y2="1675" stroke="#111" stroke-width="3" marker-end="url(#ah)"/>
<line x1="4195" y1="1675" x2="4195" y2="1360" stroke="#111" stroke-width="3" marker-end="url(#ah)"/>
<text transform="translate(4220,1440) rotate(90)" font-size="28">Kill and injure</text>
</svg>
</body></html>
